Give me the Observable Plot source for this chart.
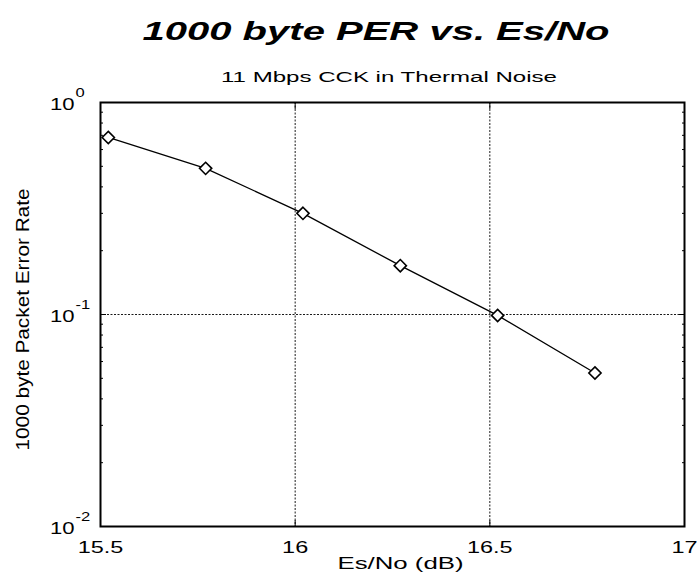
<!DOCTYPE html>
<html><head><meta charset="utf-8">
<script src="https://cdn.jsdelivr.net/npm/d3@7"></script>
<script src="https://cdn.jsdelivr.net/npm/@observablehq/plot@0.6"></script>
<style>
body{margin:0;background:#fff;width:699px;height:583px;overflow:hidden;font-family:"Liberation Sans",Arial,sans-serif}
#header svg,#chart svg{display:block}
#header svg{overflow:visible}
</style></head><body>
<div id="header"></div>
<div id="chart"></div>
<script>
const title = "1000 byte PER vs. Es/No";
const subtitle = "11 Mbps CCK in Thermal Noise";
const xLabel = "Es/No (dB)";
const yLabel = "1000 byte Packet Error Rate";
const esno = [15.52, 15.77, 16.02, 16.27, 16.52, 16.77];
const per = [0.684, 0.489, 0.300, 0.170, 0.099, 0.053];
const xTicks = [15.5, 16, 16.5, 17];
const xTickLabels = ["15.5", "16", "16.5", "17"];
const xGrid = [16, 16.5];
const yTicks = [1, 0.1, 0.01];
const yTickExponents = ["0", "-1", "-2"];
const yGrid = [0.1];
const yMinorTicks = [0.02,0.03,0.04,0.05,0.06,0.07,0.08,0.09,0.2,0.3,0.4,0.5,0.6,0.7,0.8,0.9];

const FONT = "'Liberation Sans', Arial, Helvetica, sans-serif";

// header (title + subtitle) above the plot
const header = d3.select("#header").append("svg").attr("width", 699).attr("height", 82);
header.append("text").text(title)
  .attr("x", 376).attr("y", 40).attr("text-anchor", "middle")
  .attr("font-family", FONT).attr("font-size", 26).attr("font-weight", "bold").attr("font-style", "italic")
  .attr("textLength", 467).attr("lengthAdjust", "spacingAndGlyphs");
header.append("text").text(subtitle)
  .attr("x", 389).attr("y", 82).attr("text-anchor", "middle")
  .attr("font-family", FONT).attr("font-size", 14)
  .attr("textLength", 336).attr("lengthAdjust", "spacingAndGlyphs");

const data = esno.map((x, i) => ({x, y: per[i]}));
const yTickData = yTicks.map((v, i) => ({v, e: yTickExponents[i]}));

const tickStyle = {stroke: "black", strokeWidth: 1, fill: "none", label: null};

const plot = Plot.plot({
  width: 699, height: 501,
  marginTop: 20, marginBottom: 57, marginLeft: 100, marginRight: 15,
  style: {fontFamily: FONT, background: "transparent", color: "black"},
  x: {domain: [15.5, 17], label: null},
  y: {type: "log", domain: [0.01, 1], label: null},
  marks: [
    Plot.gridX(xGrid, {stroke: "black", strokeOpacity: 0.9, strokeWidth: 1, strokeDasharray: "2,1.5"}),
    Plot.gridY(yGrid, {stroke: "black", strokeOpacity: 0.9, strokeWidth: 1, strokeDasharray: "2,1.5"}),
    // inward ticks on all four sides
    Plot.axisX(xTicks, {anchor: "bottom", tickSize: -6, ...tickStyle}),
    Plot.axisX(xTicks, {anchor: "top", tickSize: -6, ...tickStyle}),
    Plot.axisY(yTicks, {anchor: "left", tickSize: -6, ...tickStyle}),
    Plot.axisY(yTicks, {anchor: "right", tickSize: -6, ...tickStyle}),
    Plot.axisY(yMinorTicks, {anchor: "left", tickSize: -3, ...tickStyle}),
    Plot.axisY(yMinorTicks, {anchor: "right", tickSize: -3, ...tickStyle}),
    // x tick labels
    Plot.axisX(xTicks, {anchor: "bottom", tickSize: 0, tickPadding: 14, fontSize: 17,
      tickFormat: d => xTickLabels[xTicks.indexOf(d)], label: null}),
    // y tick labels as 10 with superscript exponent
    Plot.text(yTickData, {y: "v", text: () => "10", frameAnchor: "left", textAnchor: "end", dx: -26, dy: 2, fontSize: 16}),
    Plot.text(yTickData, {y: "v", text: "e", frameAnchor: "left", textAnchor: "start", dx: -25, dy: -9, fontSize: 12}),
    // axis labels
    Plot.text([xLabel], {frameAnchor: "bottom", dx: 8, dy: 42, fontSize: 16}),
    Plot.text([yLabel], {frameAnchor: "left", rotate: -90, textAnchor: "start", dx: -78, dy: 136, fontSize: 19}),
    Plot.line(data, {x: "x", y: "y", stroke: "black", strokeWidth: 1.3}),
    Plot.dot(data, {x: "x", y: "y", symbol: "diamond2", r: 5.5, stroke: "black", fill: "white", strokeWidth: 1.6}),
    Plot.frame({stroke: "black", strokeWidth: 2})
  ]
});
document.getElementById("chart").appendChild(plot);

// widen glyphs like the scanned original
plot.querySelectorAll("text").forEach(t => {
  const s = t.textContent;
  let target;
  if (s === yLabel) target = 262;
  else if (s === xLabel) target = 126;
  else target = t.getComputedTextLength() * 1.38;
  t.setAttribute("textLength", target);
  t.setAttribute("lengthAdjust", "spacingAndGlyphs");
});
</script>
</body></html>
